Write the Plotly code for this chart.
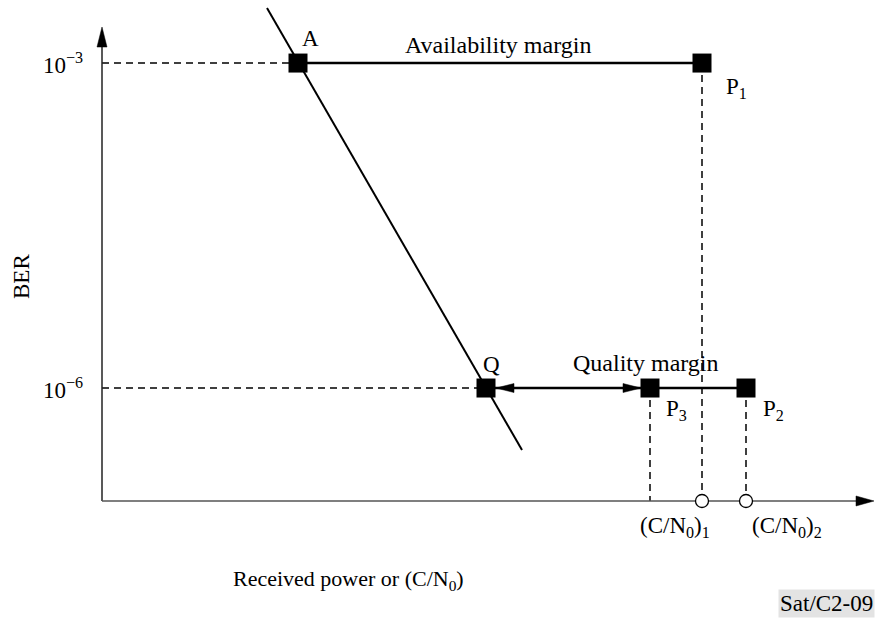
import numpy as np
import plotly.graph_objects as go

# ---- data (x in arbitrary C/N0 units, y as BER) ----
point_names = ["A", "Q", "P1", "P3", "P2"]
point_x = [19.6, 38.4, 60.0, 54.8, 64.4]
point_ber = [1e-3, 1e-6, 1e-3, 1e-6, 1e-6]

curve_x = [16.5, 42.0]
curve_ber = [3.22e-3, 2.68e-7]

axis_origin_x = 0.0
axis_end_x = 77.2
axis_ber_floor = 9.06e-8       # BER level where the horizontal axis sits
axis_ber_top = 2.15e-3         # tip of vertical axis arrow

tick_ber = [1e-3, 1e-6]
tick_text = ["10<sup>−3</sup>", "10<sup>−6</sup>"]

cn_marks_x = [60.0, 64.4]
cn_labels = ["(C/N<sub>0</sub>)<sub>1</sub>", "(C/N<sub>0</sub>)<sub>2</sub>"]

FONT = "Liberation Serif, Times New Roman, serif"
FS = 23
lg = lambda v: float(np.log10(v))

px = dict(zip(point_names, point_x))
py = dict(zip(point_names, [lg(b) for b in point_ber]))
y_axis = lg(axis_ber_floor)

fig = go.Figure()
dash = dict(color="black", width=1.5, dash="7px,5px")

def line(xs, ys, **kw):
    fig.add_trace(go.Scatter(x=xs, y=ys, mode="lines", line=kw, hoverinfo="skip", showlegend=False))

# dashed guides
line([axis_origin_x, px["A"]], [py["A"]] * 2, **dash)
line([axis_origin_x, px["Q"]], [py["Q"]] * 2, **dash)
line([px["P1"]] * 2, [py["P1"], y_axis], **dash)
line([px["P3"]] * 2, [py["P3"], y_axis], **dash)
line([px["P2"]] * 2, [py["P2"], y_axis], **dash)

# axes
line([axis_origin_x, axis_origin_x], [y_axis, lg(axis_ber_top) - 0.1], color="#222222", width=1.5)
line([axis_origin_x, axis_end_x - 1], [y_axis, y_axis], color="#555555", width=1.5)

# BER curve
line(curve_x, [lg(v) for v in curve_ber], color="black", width=2)
# margins
line([px["A"], px["P1"]], [py["A"], py["P1"]], color="black", width=2.5)
line([px["Q"], px["P2"]], [py["Q"], py["P2"]], color="black", width=2.5)

# square points
fig.add_trace(go.Scatter(x=point_x, y=[lg(b) for b in point_ber], mode="markers",
                         marker=dict(symbol="square", size=19, color="black"),
                         hoverinfo="skip", showlegend=False))
# open circles on axis
fig.add_trace(go.Scatter(x=cn_marks_x, y=[y_axis] * len(cn_marks_x), mode="markers",
                         marker=dict(symbol="circle", size=13, color="white",
                                     line=dict(color="black", width=1.3)),
                         hoverinfo="skip", showlegend=False))

# arrowheads (pixel-sized paths anchored at data points)
def head(xa, ya, path, color="black"):
    fig.add_shape(type="path", xref="x", yref="y", xsizemode="pixel", ysizemode="pixel",
                  xanchor=xa, yanchor=ya, path=path, fillcolor=color,
                  line=dict(color=color, width=0.5), layer="above")

head(axis_end_x, y_axis, "M0,0 L-18,5 L-18,-5 Z")
head(axis_origin_x, lg(axis_ber_top), "M0,0 L-5,-20 L5,-20 Z")
head(px["Q"], py["Q"], "M10,0 L28,4.5 L28,-4.5 Z")
head(px["P3"], py["P3"], "M-9,0 L-27,4.5 L-27,-4.5 Z")

def text(x, y, s, size=FS, **kw):
    fig.add_annotation(x=x, y=y, xref="x", yref="y", text=s, showarrow=False,
                       font=dict(family=FONT, size=size, color="black"), **kw)

for v, t in zip(tick_ber, tick_text):
    text(-1.7, lg(v), t, xanchor="right")

text(20.8, -2.769, "A")
text(39.6, -2.833, "Availability margin", size=24)
text(63.4, -3.230, "P<sub>1</sub>")
text(38.9, -5.787, "Q")
text(54.4, -5.769, "Quality margin", size=24)
text(57.4, -6.203, "P<sub>3</sub>")
text(67.1, -6.203, "P<sub>2</sub>")
text(cn_marks_x[0] - 2.7, -7.283, cn_labels[0])
text(cn_marks_x[1] + 4.1, -7.283, cn_labels[1])
text(24.6, -7.772, "Received power or (C/N<sub>0</sub>)", size=22)
text(-8.0, -4.975, "BER", textangle=-90)

fig.add_annotation(x=1, y=0.0, xref="paper", yref="paper", xanchor="right", yanchor="bottom",
                   text="Sat/C2-09", showarrow=False, bgcolor="#e3e3e3", borderpad=1,
                   font=dict(family=FONT, size=FS, color="black"))

fig.update_xaxes(range=[-10.2, 77.3], visible=False)
fig.update_yaxes(range=[-8.123, -2.418], visible=False)
fig.update_layout(width=875, height=618, margin=dict(l=0, r=0, t=0, b=0),
                  plot_bgcolor="white", paper_bgcolor="white", showlegend=False)

fig.write_html("out.html", config={"displayModeBar": False},
               post_script="document.body.style.margin='0';")
